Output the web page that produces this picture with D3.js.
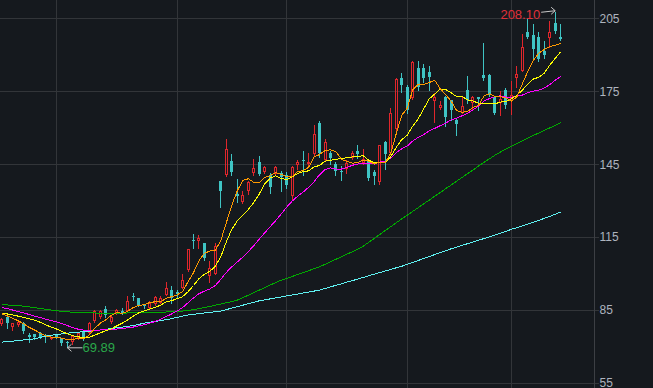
<!DOCTYPE html>
<html><head><meta charset="utf-8">
<script src="https://cdn.jsdelivr.net/npm/d3@7"></script>
<style>
html,body{margin:0;padding:0;background:#15191e;}
svg{display:block;}
text{font-family:"Liberation Sans",Arial,sans-serif;}
</style></head><body>
<svg id="chart" width="653" height="388"></svg>
<script>
const yTicks = [55, 85, 115, 145, 175, 205];
const monthStartIdx = [10, 32, 52, 74, 93];

const open = [79.7,82.0,78.3,79.1,79.5,74.8,75.0,75.4,74.7,73.4,
74.7,73.4,72.0,72.1,73.8,76.0,76.1,80.9,82.5,85.3,
80.6,83.8,84.6,85.0,90.8,89.8,87.3,86.1,88.0,88.4,
91.6,93.2,92.5,94.6,101.8,114.0,114.0,112.4,99.5,100.4,
138.0,140.8,146.3,132.8,130.0,134.4,141.7,146.1,142.2,140.5,
141.2,141.5,140.5,132.3,145.0,146.8,145.5,149.5,161.8,147.0,
149.5,145.0,142.3,143.3,148.1,150.5,146.0,146.7,141.9,138.0,
154.2,150.0,160.0,180.3,176.9,172.8,184.4,184.4,183.0,171.4,
168.6,172.8,171.4,163.2,166.6,175.5,170.7,172.5,181.7,181.7,
172.5,170.7,175.5,171.5,181.0,183.7,199.5,198.1,197.4,191.7,
197.2,203.2,197.5];
const high = [82.0,82.5,80.0,80.8,80.3,76.0,75.4,76.2,75.7,74.5,
75.5,74.0,72.5,74.8,76.5,76.5,80.3,85.5,85.5,87.1,
83.0,86.0,86.1,91.2,92.5,90.5,88.0,89.0,91.2,91.0,
97.0,95.5,93.5,100.1,110.5,116.6,116.2,113.0,105.6,113.0,
138.1,155.6,149.5,139.2,134.4,138.5,147.7,148.8,144.7,141.9,
144.5,142.6,142.0,144.5,147.0,150.8,150.0,161.5,163.2,155.7,
151.0,146.5,144.5,147.0,151.0,153.5,151.5,147.5,143.0,153.5,
155.0,168.5,181.0,183.0,178.0,188.0,187.8,186.5,185.8,174.8,
171.4,173.4,172.0,164.5,173.5,181.7,173.4,172.8,195.4,182.5,
173.0,175.5,176.9,179.6,185.8,198.8,205.0,203.0,199.8,196.1,
204.3,208.1,203.2];
const low = [79.0,77.6,77.0,78.4,75.5,72.0,72.9,73.5,72.0,73.0,
73.5,70.8,69.89,71.2,73.0,72.8,75.0,80.2,81.8,82.0,
79.5,83.3,83.4,84.3,89.1,86.5,85.8,85.5,87.1,88.0,
91.2,88.0,90.0,94.0,101.2,110.4,110.4,105.5,96.6,100.0,
127.3,140.0,140.5,129.6,128.9,132.7,140.5,140.5,141.2,133.3,
140.5,134.0,135.0,130.3,143.0,140.5,144.5,148.8,148.0,146.5,
145.0,140.5,138.5,141.5,147.0,147.5,145.0,138.5,137.0,137.0,
143.0,149.5,159.0,174.8,166.0,172.0,175.5,179.0,175.5,162.5,
167.5,160.5,163.0,157.0,166.0,170.0,167.3,167.3,179.6,173.0,
165.8,165.2,168.0,165.5,176.9,183.4,196.8,188.5,187.5,188.5,
193.3,198.8,196.0];
const close = [81.3,79.7,79.6,80.2,76.2,74.0,73.8,74.0,73.8,74.0,
74.0,71.3,71.3,74.3,75.7,73.4,79.5,84.7,84.6,83.0,
82.3,85.0,83.7,88.7,90.2,87.0,86.5,88.0,90.2,90.1,
94.2,89.8,91.5,97.4,110.0,113.3,114.5,106.3,102.5,111.3,
134.0,151.1,141.9,132.0,132.3,137.8,143.3,141.0,143.7,135.7,
143.7,139.8,136.4,143.7,146.0,146.3,146.0,157.4,149.5,154.0,
147.4,142.3,141.8,145.6,149.7,149.2,147.3,139.2,140.3,152.9,
149.0,166.0,180.0,177.6,167.3,187.1,176.9,180.3,181.0,172.8,
169.3,164.5,167.3,161.5,168.9,171.4,172.5,171.7,180.3,173.9,
166.2,171.7,169.3,173.5,182.1,193.3,197.4,192.2,188.1,189.9,
199.5,199.7,196.3];

const ma5 = [83.5,82.6,81.6,80.6,79.4,77.9,76.8,75.6,74.4,73.9,
73.9,73.4,72.9,73.0,73.3,73.2,74.8,77.5,79.6,81.0,
82.8,83.9,83.7,84.5,86.0,86.9,87.2,88.1,88.4,88.4,
89.8,90.5,91.2,92.6,96.6,100.4,105.3,108.3,109.3,109.6,
113.7,121.0,128.2,134.1,138.3,139.0,137.5,137.3,139.6,140.3,
141.5,140.8,139.9,139.9,141.9,142.4,143.7,147.9,149.0,150.6,
150.9,150.1,147.0,146.2,145.4,145.7,146.7,146.2,145.1,145.8,
145.7,149.5,157.6,165.1,168.0,175.6,177.8,177.8,178.5,179.6,
176.1,173.6,171.0,167.1,166.3,166.7,168.3,169.2,173.0,174.0,
172.9,172.8,172.3,170.9,172.6,178.0,183.1,187.7,190.6,192.2,
193.4,193.9,194.7];
const ma10 = [83.6,83.4,83.0,82.5,82.0,81.4,80.8,80.0,79.0,78.0,
77.2,76.2,75.2,74.4,74.0,73.6,73.8,74.7,75.6,76.5,
77.3,78.5,79.6,81.0,82.5,83.8,84.7,85.4,86.1,87.0,
88.35,88.85,89.65,90.5,92.5,95.1,97.9,99.75,100.95,103.1,
107.05,113.15,118.25,121.7,123.95,126.35,129.25,132.75,136.85,139.3,
140.25,139.15,138.6,139.75,141.1,141.95,142.25,143.9,144.45,146.25,
146.65,146.9,147.45,147.6,148.0,148.3,148.4,146.6,145.65,145.6,
145.7,148.1,151.9,155.1,156.9,160.65,163.65,167.7,171.8,173.8,
175.85,175.7,174.4,172.8,172.95,171.4,170.95,170.1,170.05,170.15,
169.8,170.55,170.75,171.95,173.3,175.45,177.95,180.0,180.75,182.4,
185.7,188.5,191.2];
const ma20 = [86.0,85.6,85.0,84.4,83.8,83.2,82.5,81.9,81.3,80.7,
80.2,79.4,78.6,77.8,77.1,76.7,76.6,76.7,76.8,76.9,
76.95,77.2,77.4,77.7,78.0,78.5,79.0,79.6,80.3,81.2,
82.3,83.4,84.6,86.0,88.0,90.0,91.7,92.8,93.7,95.15,
97.7,100.5,102.8,104.8,106.8,109.0,111.5,114.2,116.8,119.3,
121.8,124.5,127.3,129.8,131.8,133.5,135.5,137.8,140.65,142.8,
143.45,143.0,143.0,143.7,144.55,145.1,145.3,145.25,145.05,145.9,
146.2,147.5,149.7,151.35,152.45,154.5,156.0,157.15,158.7,159.7,
160.8,161.9,163.15,163.95,164.9,166.0,167.3,168.9,170.9,172.0,
172.8,173.1,172.6,172.4,173.1,173.4,174.45,175.05,175.4,176.3,
177.75,179.5,181.0];
const ma60 = [87.2,87.1,87.0,86.8,86.6,86.3,86.0,85.7,85.3,85.0,
84.7,84.5,84.3,84.1,84.0,83.9,83.8,83.8,83.7,83.7,
83.7,83.7,83.7,83.8,83.8,83.9,83.9,84.0,84.0,84.1,
84.2,84.3,84.4,84.6,84.8,85.2,85.6,86.0,86.5,87.0,
87.5,88.0,88.5,89.1,90.1,91.1,92.2,93.2,94.2,95.3,
96.3,97.3,98.0,98.8,99.6,100.4,101.2,102.0,102.8,103.8,
104.9,105.9,106.9,108.0,109.0,110.0,111.3,112.9,114.5,116.1,
117.7,119.3,120.9,122.5,124.0,125.6,127.1,128.7,130.2,131.8,
133.3,134.9,136.4,138.0,139.5,141.1,142.6,144.2,145.7,147.2,
148.7,150.0,151.2,152.3,153.5,154.6,155.7,156.8,157.8,158.9,
159.9,161.0,162.0];
const ma120 = [71.8,72.0,72.2,72.5,72.7,72.9,73.2,73.7,74.2,74.6,
75.0,75.2,75.5,75.7,75.9,76.1,76.3,76.5,76.8,77.1,
77.4,77.7,78.0,78.3,78.6,79.1,79.6,80.0,80.3,80.7,
81.0,81.5,82.0,82.5,83.0,83.3,83.5,83.8,84.1,84.3,
84.6,85.2,85.8,86.4,87.0,87.6,88.2,88.8,89.2,89.6,
90.0,90.4,90.8,91.2,91.6,92.0,92.4,92.8,93.2,93.9,
94.5,95.2,95.8,96.5,97.1,97.8,98.4,99.1,99.8,100.4,
101.1,101.7,102.4,103.0,103.8,104.6,105.4,106.2,107.0,107.8,
108.6,109.4,110.2,110.9,111.6,112.3,113.0,113.7,114.4,115.1,
115.8,116.6,117.4,118.2,118.9,119.6,120.4,121.1,121.9,122.7,
123.5,124.4,125.3];

const W = 653, H = 388;
const C = {bg:'#15191e', grid:'#323539', axis:'#3c3f44', label:'#aeb4bf',
  up:'#e0262c', down:'#3fc4c4', ma5:'#ff9a00', ma10:'#ffff00', ma20:'#ff00ff',
  ma60:'#00aa00', ma120:'#5ff2f2', hiText:'#e0303a', loText:'#2aa84a', arrow:'#c8c8c8'};

const svg = d3.select('#chart');
svg.append('rect').attr('width', W).attr('height', H).attr('fill', C.bg);

const idx = d3.range(close.length);
const x = d3.scaleBand().domain(idx).range([-1.04, 563.4]);
const cx = i => x(i) + x.bandwidth() / 2;
const px = i => Math.floor(cx(i)) + 0.5;
const y = d3.scaleLinear().domain([55, 205]).range([383, 18.3]);
const py = v => Math.round(y(v)) + 0.5;

const axisX = 594.5;

// grid
const g = svg.append('g').attr('shape-rendering', 'crispEdges');
g.selectAll('.hg').data(yTicks).join('line')
  .attr('x1', 0).attr('x2', axisX).attr('y1', d => py(d)).attr('y2', d => py(d))
  .attr('stroke', C.grid);
g.selectAll('.vg').data(monthStartIdx).join('line')
  .attr('x1', d => px(d)).attr('x2', d => px(d)).attr('y1', 0).attr('y2', H)
  .attr('stroke', C.grid);

// candles
const cg = svg.append('g').attr('shape-rendering', 'crispEdges');
idx.forEach(i => {
  const o = open[i], c = close[i], h = high[i], l = low[i];
  const xp = px(i);
  if (c >= o) {
    const top = py(c), bot = py(o);
    cg.append('line').attr('x1', xp).attr('x2', xp).attr('y1', py(h)).attr('y2', top).attr('stroke', C.up);
    cg.append('line').attr('x1', xp).attr('x2', xp).attr('y1', bot).attr('y2', py(l)).attr('stroke', C.up);
    cg.append('rect').attr('x', xp - 1).attr('y', top).attr('width', 2).attr('height', Math.max(0, bot - top))
      .attr('fill', 'none').attr('stroke', C.up);
  } else {
    cg.append('line').attr('x1', xp).attr('x2', xp).attr('y1', py(h)).attr('y2', py(l)).attr('stroke', C.down);
    const top = Math.round(y(o)), bot = Math.round(y(c));
    cg.append('rect').attr('x', xp - 1.5).attr('y', top).attr('width', 3).attr('height', Math.max(1, bot - top))
      .attr('fill', C.down);
  }
});

// moving averages
const line = d3.line().x((d, i) => cx(i)).y(d => y(d));
const mas = [[ma120, C.ma120], [ma60, C.ma60], [ma20, C.ma20], [ma10, C.ma10], [ma5, C.ma5]];
svg.append('g').selectAll('path').data(mas).join('path')
  .attr('d', d => line(d[0])).attr('fill', 'none').attr('stroke', d => d[1])
  .attr('stroke-width', 1).attr('shape-rendering', 'crispEdges');

// axis
svg.append('line').attr('x1', axisX).attr('x2', axisX).attr('y1', 0).attr('y2', H)
  .attr('stroke', C.axis).attr('shape-rendering', 'crispEdges');
const ax = svg.append('g').attr('transform', `translate(${axisX},0)`)
  .call(d3.axisRight(y).tickValues(yTicks).tickSize(4).tickPadding(1).tickFormat(d3.format('d')));
ax.select('.domain').remove();
ax.selectAll('.tick line').attr('stroke', C.grid).attr('shape-rendering', 'crispEdges');
ax.selectAll('.tick text').attr('fill', C.label).attr('font-size', 12)
  .attr('font-family', '"Liberation Sans",Arial,sans-serif');

// high / low annotations
const hi = d3.maxIndex(high), lo = d3.minIndex(low);
const hx = cx(hi), hy = y(high[hi]);
const an = svg.append('g');
an.append('line').attr('x1', hx - 14).attr('y1', hy + 1.5).attr('x2', hx).attr('y2', hy)
  .attr('stroke', C.arrow).attr('stroke-width', 1);
an.append('polyline').attr('points', `${hx-4},${hy-3.5} ${hx},${hy} ${hx-4},${hy+3.5}`)
  .attr('fill', 'none').attr('stroke', C.arrow).attr('stroke-width', 1);
an.append('text').attr('x', hx - 15).attr('y', hy + 4).attr('dy', '0.35em')
  .attr('text-anchor', 'end').attr('fill', C.hiText).attr('font-size', 13)
  .text(high[hi].toFixed(2));

const lx = cx(lo), ly = y(low[lo]);
an.append('line').attr('x1', lx).attr('y1', ly + 1).attr('x2', lx + 15).attr('y2', ly + 1)
  .attr('stroke', C.arrow).attr('stroke-width', 1);
an.append('polyline').attr('points', `${lx+4},${ly-2.5} ${lx},${ly+1} ${lx+4},${ly+4.5}`)
  .attr('fill', 'none').attr('stroke', C.arrow).attr('stroke-width', 1);
an.append('text').attr('x', lx + 15).attr('y', ly + 1).attr('dy', '0.35em')
  .attr('text-anchor', 'start').attr('fill', C.loText).attr('font-size', 13)
  .text(low[lo].toFixed(2));
</script>
</body></html>
